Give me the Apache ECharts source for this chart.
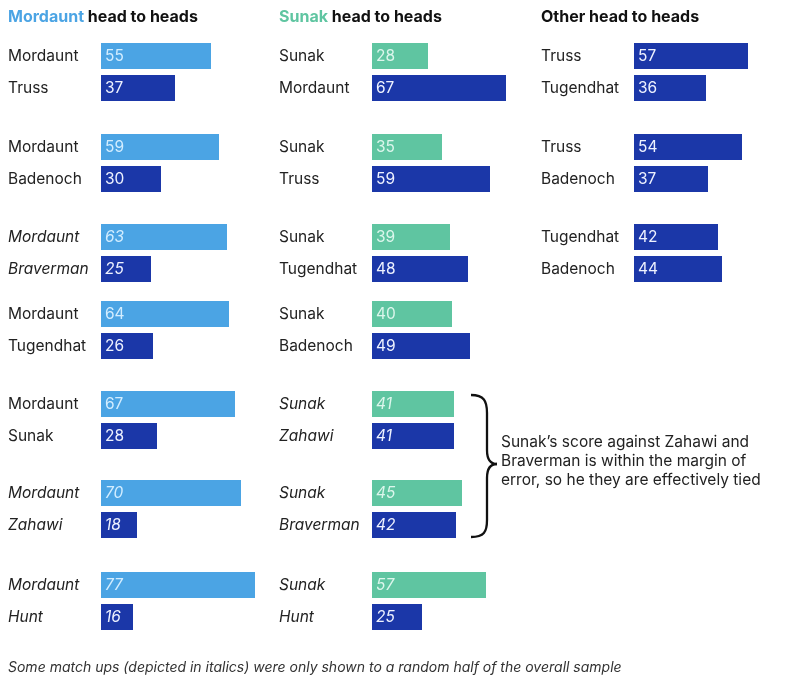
<!DOCTYPE html>
<html>
<head>
<meta charset="utf-8">
<script src="https://cdn.jsdelivr.net/npm/echarts@6/dist/echarts.min.js"></script>
<style>html,body{margin:0;padding:0;background:#fff}#c{width:800px;height:676px}</style>
</head>
<body>
<div id="c"></div>
<script>
// ---- data ----
const mordauntLabels = [['Mordaunt','Truss'],['Mordaunt','Badenoch'],['Mordaunt','Braverman'],['Mordaunt','Tugendhat'],['Mordaunt','Sunak'],['Mordaunt','Zahawi'],['Mordaunt','Hunt']];
const mordauntValues = [[55,37],[59,30],[63,25],[64,26],[67,28],[70,18],[77,16]];
const mordauntHalfSample = [false,false,true,false,false,true,true];

const sunakLabels = [['Sunak','Mordaunt'],['Sunak','Truss'],['Sunak','Tugendhat'],['Sunak','Badenoch'],['Sunak','Zahawi'],['Sunak','Braverman'],['Sunak','Hunt']];
const sunakValues = [[28,67],[35,59],[39,48],[40,49],[41,41],[45,42],[57,25]];
const sunakHalfSample = [false,false,false,false,true,true,true];

const otherLabels = [['Truss','Tugendhat'],['Truss','Badenoch'],['Tugendhat','Badenoch']];
const otherValues = [[57,36],[54,37],[42,44]];
const otherHalfSample = [false,false,false];

const panelTitles = [['Mordaunt',' head to heads'],['Sunak',' head to heads'],['','Other head to heads']];
const noteText = 'Sunak\u2019s score against Zahawi and\nBraverman is within the margin of\nerror, so he they are effectively tied';
const footText = 'Some match ups (depicted in italics) were only shown to a random half of the overall sample';

// ---- layout / style ----
const FONT = 'Inter, "Noto Sans", sans-serif';
const LIGHT = '#4ba4e4', GREEN = '#5fc5a1', DARK = '#1b37a8';
const rowTops = [40,131,221,298,388,477,569];
const colLeft = [101,372,634];
const titleLeft = [8,279,541];
const columns = [
  {labels: mordauntLabels, values: mordauntValues, half: mordauntHalfSample, first: LIGHT, firstLabel: '#d2edff'},
  {labels: sunakLabels, values: sunakValues, half: sunakHalfSample, first: GREEN, firstLabel: '#dcf6ec'},
  {labels: otherLabels, values: otherValues, half: otherHalfSample, first: DARK, firstLabel: '#eef2ff'}
];

const grid = [], xAxis = [], yAxis = [], series = [];
columns.forEach((col, ci) => {
  col.labels.forEach((pair, pi) => {
    const idx = grid.length;
    const italic = col.half[pi] ? 'italic' : 'normal';
    grid.push({left: colLeft[ci], top: rowTops[pi], width: 160, height: 64});
    xAxis.push({type: 'value', gridIndex: idx, min: 0, max: 80, show: false});
    yAxis.push({
      type: 'category', gridIndex: idx, data: pair, inverse: true,
      axisLine: {show: false}, axisTick: {show: false}, splitLine: {show: false},
      axisLabel: {align: 'left', margin: 93, fontSize: 15.5, fontFamily: FONT, fontStyle: italic, color: '#222'}
    });
    series.push({
      type: 'bar', xAxisIndex: idx, yAxisIndex: idx, barWidth: 26, silent: true, animation: false,
      data: col.values[pi].map((v, k) => ({
        value: v,
        itemStyle: {color: k === 0 ? col.first : DARK},
        label: {color: k === 0 ? col.firstLabel : '#eef2ff'}
      })),
      label: {show: true, position: 'insideLeft', distance: 4, fontSize: 15.5, fontFamily: FONT,
              fontStyle: italic, textBorderWidth: 0, formatter: '{c}'}
    });
  });
});

const titleColors = [LIGHT, GREEN, '#111'];
const graphic = [];
panelTitles.forEach((t, i) => {
  graphic.push({
    type: 'text', left: titleLeft[i], top: 9,
    style: {
      text: (t[0] ? '{a|' + t[0] + '}' : '') + '{b|' + t[1] + '}',
      rich: {
        a: {fontSize: 16, fontWeight: 'bold', fontFamily: FONT, fill: titleColors[i]},
        b: {fontSize: 16, fontWeight: 'bold', fontFamily: FONT, fill: '#111'}
      }
    }
  });
});
const braceStyle = {stroke: '#111', lineWidth: 2.3, fill: null};
const braceParts = [
  {type: 'bezierCurve', shape: {x1: 471, y1: 395, cpx1: 484, cpy1: 395, cpx2: 487, cpy2: 401, x2: 487, y2: 413}},
  {type: 'line', shape: {x1: 487, y1: 413, x2: 487, y2: 450}},
  {type: 'bezierCurve', shape: {x1: 487, y1: 450, cpx1: 487, cpy1: 459, cpx2: 490, cpy2: 464, x2: 497, y2: 464}},
  {type: 'bezierCurve', shape: {x1: 497, y1: 464, cpx1: 490, cpy1: 464, cpx2: 487, cpy2: 469, x2: 487, y2: 478}},
  {type: 'line', shape: {x1: 487, y1: 478, x2: 487, y2: 520}},
  {type: 'bezierCurve', shape: {x1: 487, y1: 520, cpx1: 487, cpy1: 532, cpx2: 484, cpy2: 537, x2: 471, y2: 537}}
];
braceParts.forEach(p => graphic.push(Object.assign({silent: true, style: braceStyle}, p)));
graphic.push({
  type: 'text', left: 501, top: 433,
  style: {text: noteText, fontSize: 15.5, lineHeight: 19, fontFamily: FONT, fill: '#222'}
});
graphic.push({
  type: 'text', left: 8, top: 661,
  style: {text: footText, fontSize: 14, fontStyle: 'italic', fontFamily: FONT, fill: '#333'}
});

const chart = echarts.init(document.getElementById('c'), null, {renderer: 'canvas'});
chart.setOption({animation: false, grid, xAxis, yAxis, series, graphic});
</script>
</body>
</html>
